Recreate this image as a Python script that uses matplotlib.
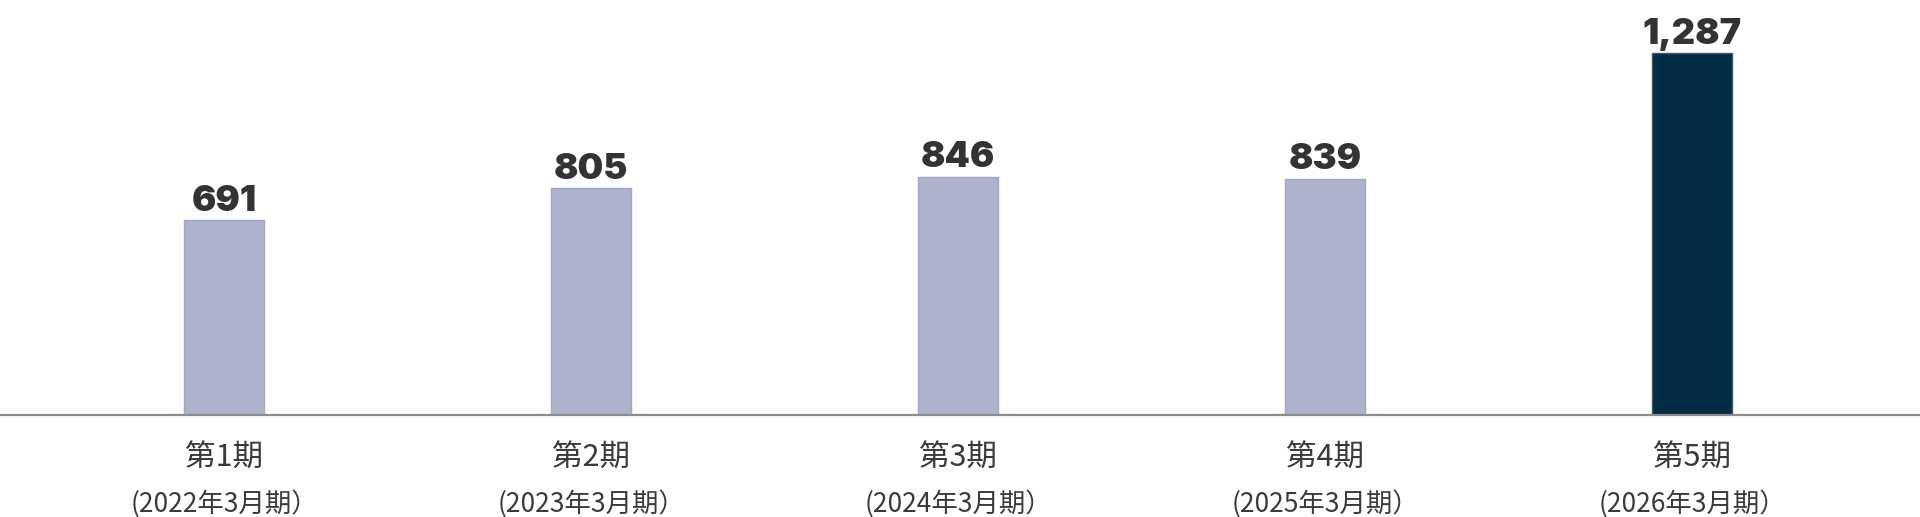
import matplotlib
matplotlib.use("Agg")
import matplotlib.pyplot as plt

periods = ["第1期", "第2期", "第3期", "第4期", "第5期"]
fiscal = ["(2022年3月期）", "(2023年3月期）", "(2024年3月期）", "(2025年3月期）", "(2026年3月期）"]
values = [691, 805, 846, 839, 1287]
value_labels = ["691", "805", "846", "839", "1,287"]
colors = ["#AEB2CC", "#AEB2CC", "#AEB2CC", "#AEB2CC", "#022D45"]
edges = ["#A3A7C2", "#A3A7C2", "#A3A7C2", "#A3A7C2", "#3E5A6E"]

W, H, DPI = 1920, 517, 100
fig = plt.figure(figsize=(W / DPI, H / DPI), dpi=DPI)
base_px = 414.5
ax = fig.add_axes([0, (H - base_px) / H, 1, base_px / H])

x = list(range(len(values)))
ax.bar(x, values, width=0.218, color=colors, edgecolor=edges, linewidth=1.0, zorder=2)
ax.set_xlim(-0.61, 4.62)
ax.set_ylim(0, 1476)

for s in ["top", "right", "left"]:
    ax.spines[s].set_visible(False)
ax.spines["bottom"].set_color("#8C8C8C")
ax.spines["bottom"].set_linewidth(1.6)
ax.spines["bottom"].set_zorder(3)
ax.set_yticks([])
ax.set_xticks([])

px2pt = 72 / DPI
for i, (v, lab) in enumerate(zip(values, value_labels)):
    ax.annotate(lab, xy=(i, v), xytext=(0, 9.5 * px2pt), textcoords="offset points",
                ha="center", va="baseline", fontsize=26, fontweight="black",
                family=["Inter", "Lato", "DejaVu Sans"], color="#333333")
    ax.annotate(periods[i], xy=(i, 0), xycoords=("data", "axes fraction"),
                xytext=(0, -52 * px2pt), textcoords="offset points",
                ha="center", va="baseline", fontsize=22,
                family=["Noto Sans CJK JP", "DejaVu Sans"], color="#3A3A3A")
    ax.annotate(fiscal[i], xy=(i, 0), xycoords=("data", "axes fraction"),
                xytext=(0, -97 * px2pt), textcoords="offset points",
                ha="center", va="baseline", fontsize=19,
                family=["Noto Sans CJK JP", "DejaVu Sans"], color="#3A3A3A")

fig.savefig("out.png", dpi=DPI)
